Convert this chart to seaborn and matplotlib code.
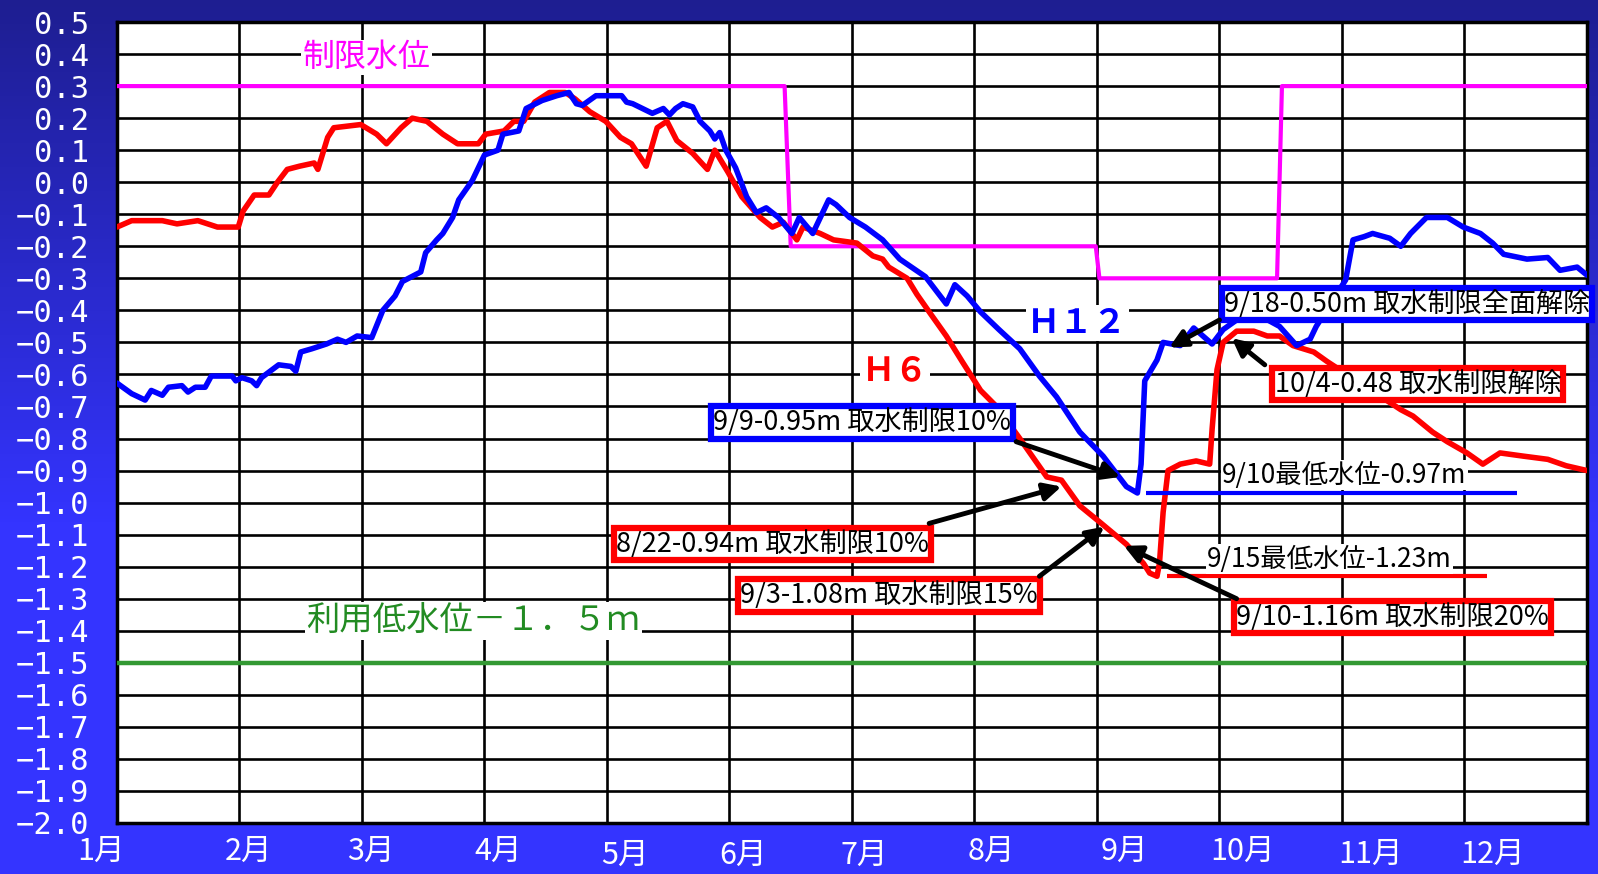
import numpy as np
import pandas as pd
import matplotlib
matplotlib.use('Agg')
import matplotlib.pyplot as plt
import seaborn as sns

# x = position in the year in months (0 = 1/1, 12 = end of Dec), y = water level (m)
h6_month = [0.00, 0.12, 0.37, 0.49, 0.66, 0.82, 0.99, 1.03, 1.12, 1.24, 1.31, 1.39, 1.49, 1.61, 1.64,
            1.72, 1.77, 1.99, 2.12, 2.20, 2.32, 2.41, 2.53, 2.66, 2.78, 2.95, 3.01, 3.16, 3.24, 3.32,
            3.41, 3.53, 3.66, 3.74, 3.86, 3.99, 4.11, 4.20, 4.32, 4.41, 4.49, 4.57, 4.70, 4.82, 4.88,
            4.99, 5.10, 5.25, 5.35, 5.44, 5.55, 5.60, 5.74, 5.85, 6.04, 6.17, 6.25, 6.30, 6.45, 6.53,
            6.64, 6.77, 6.90, 7.05, 7.18, 7.37, 7.59, 7.71, 7.86, 8.02, 8.24, 8.38, 8.43, 8.49, 8.51,
            8.54, 8.58, 8.68, 8.81, 8.92, 8.94, 8.98, 9.03, 9.14, 9.28, 9.39, 9.49, 9.60, 9.77, 9.88,
            10.48, 10.58, 10.74, 10.86, 11.02, 11.15, 11.29, 11.48, 11.68, 11.83, 12.00]
h6_level = [-0.14, -0.12, -0.12, -0.13, -0.12, -0.14, -0.14, -0.09, -0.04, -0.04, 0.00, 0.04, 0.05, 0.06, 0.04,
            0.14, 0.17, 0.18, 0.15, 0.12, 0.17, 0.20, 0.19, 0.15, 0.12, 0.12, 0.15, 0.16, 0.19, 0.19,
            0.25, 0.28, 0.28, 0.26, 0.22, 0.19, 0.14, 0.12, 0.05, 0.17, 0.19, 0.13, 0.09, 0.04, 0.10,
            0.03, -0.045, -0.11, -0.14, -0.125, -0.18, -0.14, -0.16, -0.18, -0.19, -0.23, -0.24, -0.265, -0.30, -0.35,
            -0.41, -0.48, -0.56, -0.65, -0.70, -0.80, -0.92, -0.93, -1.01, -1.06, -1.13, -1.19, -1.22, -1.23, -1.19,
            -1.03, -0.90, -0.88, -0.87, -0.88, -0.77, -0.585, -0.50, -0.465, -0.465, -0.48, -0.48, -0.51, -0.53, -0.56,
            -0.71, -0.73, -0.78, -0.81, -0.845, -0.88, -0.845, -0.855, -0.865, -0.885, -0.90]

h12_month = [0.00, 0.12, 0.23, 0.28, 0.37, 0.42, 0.53, 0.58, 0.64, 0.72, 0.77, 0.94, 0.97, 1.02, 1.10,
             1.14, 1.18, 1.32, 1.42, 1.46, 1.50, 1.59, 1.71, 1.80, 1.87, 1.96, 2.08, 2.17, 2.27, 2.33,
             2.48, 2.52, 2.61, 2.66, 2.74, 2.79, 2.90, 3.00, 3.11, 3.15, 3.28, 3.34, 3.47, 3.59, 3.69,
             3.75, 3.80, 3.91, 4.05, 4.12, 4.16, 4.21, 4.37, 4.46, 4.51, 4.56, 4.62, 4.70, 4.76, 4.84,
             4.88, 4.92, 4.97, 5.05, 5.14, 5.22, 5.30, 5.40, 5.51, 5.57, 5.68, 5.81, 5.87, 5.98, 6.11,
             6.25, 6.39, 6.60, 6.77, 6.84, 6.94, 7.05, 7.20, 7.37, 7.53, 7.67, 7.86, 8.05, 8.14, 8.24,
             8.33, 8.36, 8.39, 8.49, 8.54, 8.68, 8.79, 8.94, 9.03, 9.25, 9.49, 9.63, 9.74, 9.79, 10.03,
             10.09, 10.18, 10.25, 10.39, 10.48, 10.56, 10.69, 10.86, 10.99, 11.13, 11.23, 11.32, 11.51, 11.68, 11.78,
             11.92, 12.00]
h12_level = [-0.627, -0.66, -0.68, -0.65, -0.665, -0.64, -0.635, -0.655, -0.64, -0.64, -0.605, -0.605, -0.62, -0.61, -0.62,
             -0.635, -0.61, -0.57, -0.575, -0.59, -0.53, -0.52, -0.505, -0.49, -0.50, -0.48, -0.485, -0.40, -0.355, -0.31,
             -0.28, -0.22, -0.18, -0.16, -0.11, -0.055, 0.005, 0.085, 0.10, 0.15, 0.16, 0.23, 0.255, 0.27, 0.28,
             0.245, 0.24, 0.27, 0.27, 0.27, 0.25, 0.245, 0.215, 0.23, 0.21, 0.23, 0.245, 0.235, 0.19, 0.16,
             0.135, 0.155, 0.10, 0.045, -0.045, -0.095, -0.08, -0.11, -0.16, -0.11, -0.16, -0.055, -0.07, -0.11, -0.14,
             -0.18, -0.24, -0.295, -0.38, -0.32, -0.355, -0.405, -0.46, -0.52, -0.605, -0.67, -0.78, -0.855, -0.90, -0.95,
             -0.97, -0.88, -0.62, -0.555, -0.50, -0.51, -0.455, -0.505, -0.46, -0.40, -0.45, -0.51, -0.49, -0.45, -0.305,
             -0.18, -0.17, -0.16, -0.175, -0.20, -0.16, -0.11, -0.11, -0.14, -0.16, -0.19, -0.225, -0.24, -0.235, -0.275,
             -0.265, -0.29]

limit_month = [0.00, 5.45, 5.50, 7.99, 8.02, 9.47, 9.51, 12.00]
limit_level = [0.30, 0.30, -0.20, -0.20, -0.30, -0.30, 0.30, 0.30]
usable_low = -1.5
min_h12 = -0.97
min_h6 = -1.23

month_labels = [f"{i}月" for i in range(1, 13)]
y_ticks = np.round(np.arange(-2.0, 0.51, 0.1), 1)

sns.set_theme(style='white')
plt.rcParams['font.family'] = ['Noto Sans CJK JP', 'DejaVu Sans']

fig = plt.figure(figsize=(15.98, 8.74), dpi=100)

# blue gradient background behind everything
bg = fig.add_axes([0, 0, 1, 1], zorder=0)
c_top = np.array([30, 30, 145]) / 255
c_bot = np.array([52, 52, 255]) / 255
t = np.clip(np.linspace(0, 1, 256) / 0.6, 0, 1)
grad = c_top + (c_bot - c_top) * t[:, None]
bg.imshow(grad[:, None, :], aspect='auto', extent=[0, 1, 0, 1])
bg.axis('off')

ax = fig.add_axes([0.0732, 0.0584, 0.9199, 0.9164], zorder=1)
ax.set_facecolor('white')

# reference lines
sns.lineplot(x=limit_month, y=limit_level, ax=ax, color='#ff00ff', lw=3, sort=False, estimator=None, zorder=3)
ax.axhline(usable_low, color='#339933', lw=3.2, zorder=3)

# H6 / H12 levels
df6 = pd.DataFrame({'month': h6_month, 'level': h6_level})
df12 = pd.DataFrame({'month': h12_month, 'level': h12_level})
sns.lineplot(data=df6, x='month', y='level', ax=ax, color='#ff0000', lw=4, sort=False, estimator=None, zorder=4)
sns.lineplot(data=df12, x='month', y='level', ax=ax, color='#0000ff', lw=4, sort=False, estimator=None, zorder=5)

# minimum level markers
ax.hlines(min_h12, 8.40, 11.43, color='#0000ff', lw=3, zorder=5)
ax.hlines(min_h6, 8.57, 11.18, color='#ff0000', lw=3, zorder=5)

ax.set_xlim(0, 12)
ax.set_ylim(-2.0, 0.5)
ax.set_xlabel('')
ax.set_ylabel('')
ax.set_xticks(range(12))
ax.set_xticklabels([])
ax.set_yticks(y_ticks)
ax.set_yticklabels([f"{v:.1f}".replace('-', '\u2212') for v in y_ticks],
                   fontsize=22, color='white', fontfamily='DejaVu Sans Mono')
ax.tick_params(axis='x', length=0)
ax.tick_params(axis='y', length=0, pad=20)
ax.set_axisbelow(True)
ax.grid(True, color='black', lw=1.9)
for s in ax.spines.values():
    s.set_color('black')
    s.set_linewidth(2.5)

# month labels sit a little right of the month lines, as in the original
label_shift = [-0.13, 0.07, 0.07, 0.11, 0.15, 0.11, 0.10, 0.14, 0.22, 0.19, 0.23, 0.23]
label_drop = [0, 0, 0, 0, 0.005, 0.005, 0.005, 0, 0, 0, 0.004, 0.004]
for i, lab in enumerate(month_labels):
    ax.text(i + label_shift[i], -0.035 - label_drop[i], lab, transform=ax.get_xaxis_transform(),
            ha='center', va='center', fontsize=22, color='white', clip_on=False)

plain = dict(boxstyle='square,pad=0.05', fc='white', ec='none')

ax.text(2.04, 0.39, '制限水位', color='#ff00ff', fontsize=23, ha='center', va='center', zorder=6, bbox=plain)
ax.text(2.91, -1.37, '利用低水位－１．５ｍ', color='#228b22', fontsize=24, ha='center', va='center', zorder=6, bbox=plain)
ax.text(7.84, -0.44, 'Ｈ１２', color='#0000ff', fontsize=24, fontweight='bold', ha='center', va='center', zorder=6, bbox=plain)
ax.text(6.35, -0.59, 'Ｈ６', color='#ff0000', fontsize=24, fontweight='bold', ha='center', va='center', zorder=6, bbox=plain)
ax.text(10.02, -0.915, '9/10最低水位-0.97m', color='black', fontsize=19, ha='center', va='center', zorder=6, bbox=plain)
ax.text(9.90, -1.177, '9/15最低水位-1.23m', color='black', fontsize=19, ha='center', va='center', zorder=6, bbox=plain)


def boxed(x, y, s, edge):
    ax.text(x, y, s, ha='center', va='center', fontsize=19.5, color='black', zorder=7,
            bbox=dict(boxstyle='square,pad=0.08', fc='white', ec=edge, lw=4.5))


def arrow(start, tip):
    ax.annotate('', xy=tip, xytext=start, zorder=8,
                arrowprops=dict(arrowstyle='-|>', color='black', lw=3.5, mutation_scale=26,
                                shrinkA=0, shrinkB=0))


boxed(6.08, -0.75, '9/9-0.95m 取水制限10%', '#0000ff')
arrow((7.34, -0.81), (8.19, -0.92))
boxed(5.35, -1.13, '8/22-0.94m 取水制限10%', '#ff0000')
arrow((6.63, -1.065), (7.71, -0.95))
boxed(6.30, -1.29, '9/3-1.08m 取水制限15%', '#ff0000')
arrow((7.53, -1.23), (8.06, -1.075))
boxed(10.41, -1.357, '9/10-1.16m 取水制限20%', '#ff0000')
arrow((9.14, -1.30), (8.22, -1.135))
boxed(10.53, -0.38, '9/18-0.50m 取水制限全面解除', '#0000ff')
arrow((9.00, -0.43), (8.59, -0.516))
boxed(10.62, -0.63, '10/4-0.48 取水制限解除', '#ff0000')
arrow((9.37, -0.57), (9.10, -0.487))

fig.savefig('out.png', dpi=100)
